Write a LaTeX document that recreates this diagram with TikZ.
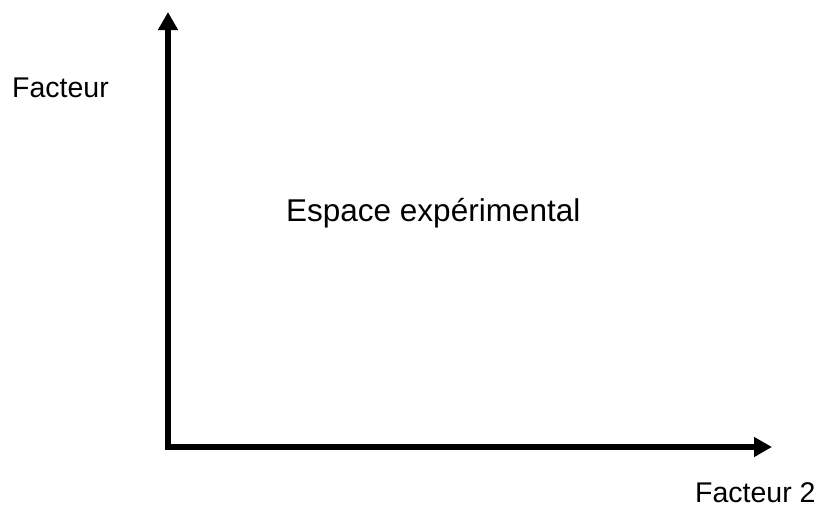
\documentclass[tikz,border=0pt]{standalone}
\usepackage{fontspec}
\setmainfont{Liberation Sans}
\usetikzlibrary{arrows.meta}
\begin{document}
\begin{tikzpicture}[x=1pt,y=-1pt,
  axis/.style={line width=6pt,-{Triangle[length=18pt,width=19pt]}},
  lbl/.style={font=\fontsize{28.5}{32}\selectfont,anchor=base west,inner sep=0pt},
  biglbl/.style={font=\fontsize{31.5}{36}\selectfont,anchor=base west,inner sep=0pt}]
\useasboundingbox (0,0) rectangle (820,509);
\coordinate (O) at (168,447);
\coordinate (Ytip) at (168,12);
\coordinate (Xtip) at (772,447);
\draw[axis] ([yshift=-3pt]O) -- (Ytip);
\draw[axis] ([xshift=-3pt]O) -- (Xtip);
\node[lbl] (f1) at (12,97) {Facteur};
\node[biglbl] (esp) at (286,221) {Espace expérimental};
\node[lbl] (f2) at (695,502) {Facteur 2};
\end{tikzpicture}
\end{document}
